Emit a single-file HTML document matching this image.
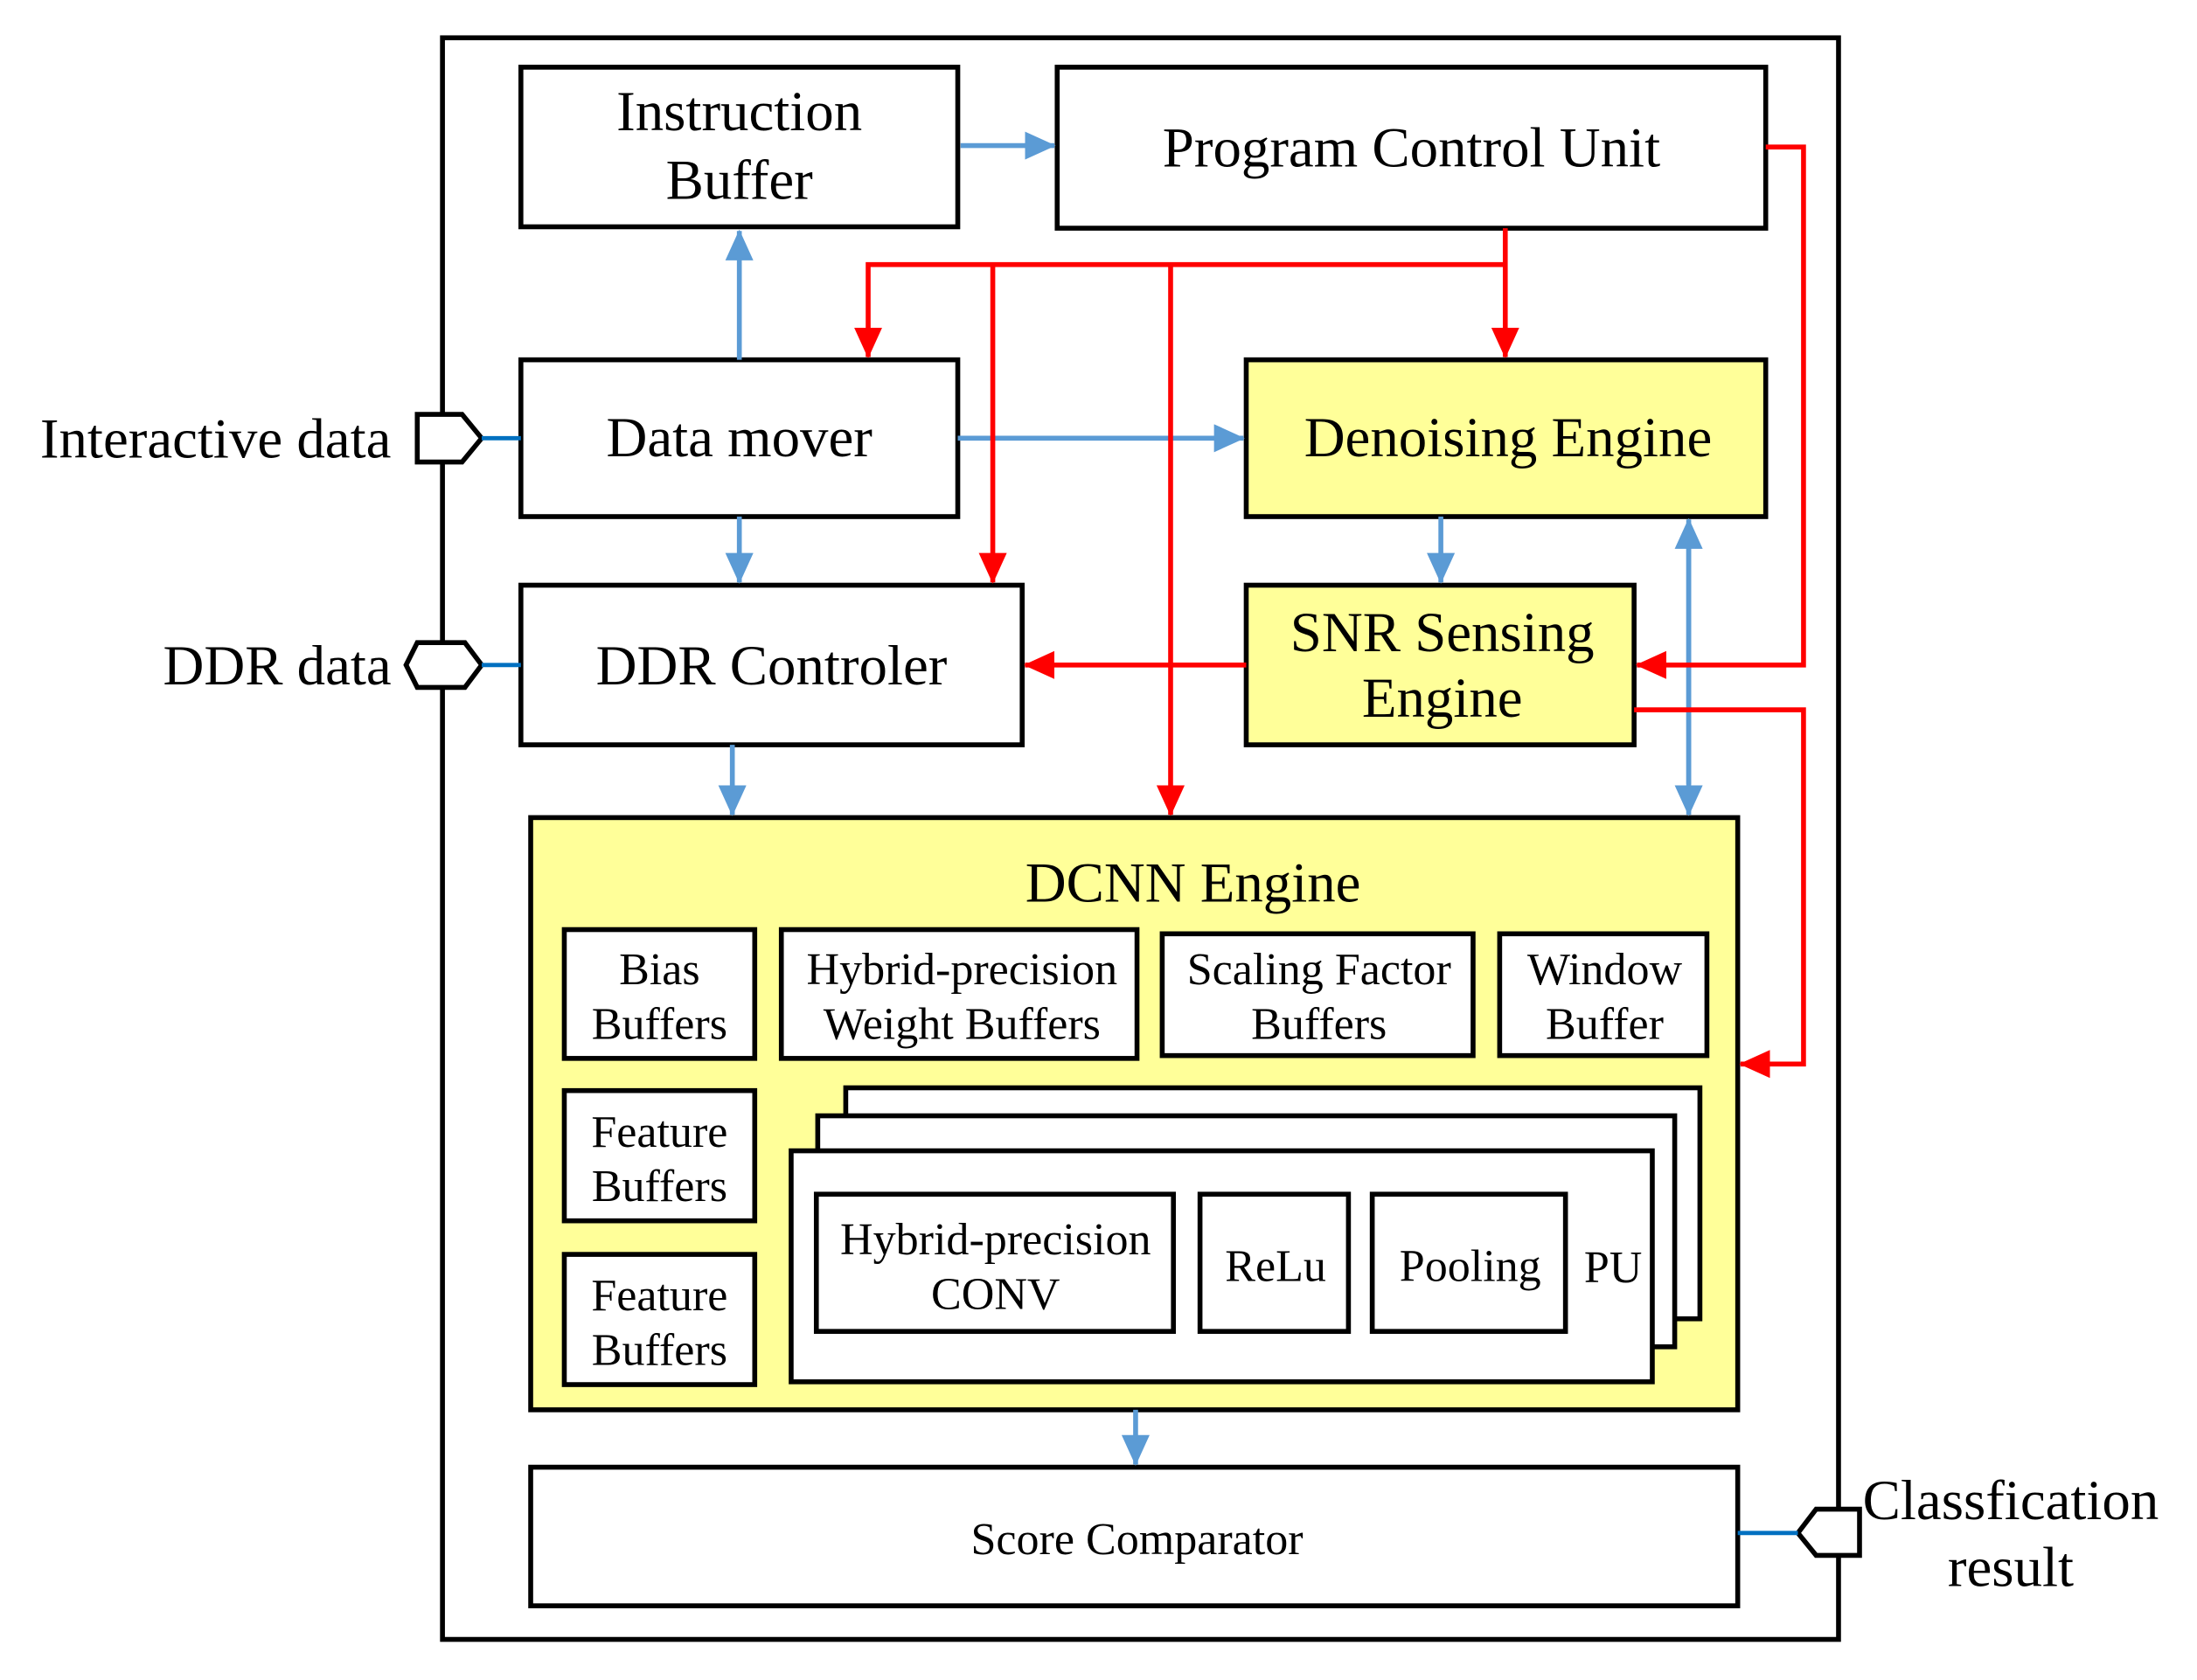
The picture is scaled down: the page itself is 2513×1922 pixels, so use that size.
<!DOCTYPE html>
<html><head><style>html,body{margin:0;padding:0;background:#fff}svg{display:block}</style></head>
<body>
<svg width="2513" height="1922" viewBox="0 0 1569 1200" preserveAspectRatio="none" xmlns="http://www.w3.org/2000/svg" font-family="Liberation Serif, serif">
<defs>
<marker id="bA" markerWidth="22" markerHeight="20" refX="21" refY="10" orient="auto" markerUnits="userSpaceOnUse" viewBox="0 0 22 20"><path d="M0,0 L22,10 L0,20 z" fill="#5b9bd5"/></marker>
<marker id="rA" markerWidth="22" markerHeight="20" refX="21" refY="10" orient="auto" markerUnits="userSpaceOnUse" viewBox="0 0 22 20"><path d="M0,0 L22,10 L0,20 z" fill="#ff0000"/></marker>
</defs>
<style>
.b{fill:#fff;stroke:#000;stroke-width:3.5}
.y{fill:#ffff99;stroke:#000;stroke-width:3.5}
.bl{stroke:#5b9bd5;stroke-width:3.5;fill:none}
.rd{stroke:#ff0000;stroke-width:3.5;fill:none}
text{text-anchor:middle;fill:#000}
.L{font-size:40.5px}.M{font-size:32.5px}
</style>
<rect x="316" y="27" width="997" height="1144" fill="#fff" stroke="#000" stroke-width="3.5"/>
<rect class="b" x="372" y="48" width="312" height="114"/>
<text class="L" x="528" y="93">Instruction</text><text class="L" x="528" y="142">Buffer</text>
<rect class="b" x="755" y="48" width="506" height="115"/>
<text class="L" x="1008" y="119">Program Control Unit</text>
<rect class="b" x="372" y="257" width="312" height="112"/>
<text class="L" x="528" y="326">Data mover</text>
<rect class="y" x="890" y="257" width="371" height="112"/>
<text class="L" x="1077" y="326">Denoising Engine</text>
<rect class="b" x="372" y="418" width="358" height="114"/>
<text class="L" x="551" y="489">DDR Controler</text>
<rect class="y" x="890" y="418" width="277" height="114"/>
<text class="L" x="1030" y="465">SNR  Sensing</text><text class="L" x="1030" y="512">Engine</text>
<rect class="y" x="379" y="584" width="862" height="423"/>
<text class="L" x="852" y="644">DCNN Engine</text>
<rect class="b" x="403" y="664" width="136" height="92"/>
<text class="M" x="471" y="703">Bias</text><text class="M" x="471" y="742">Buffers</text>
<rect class="b" x="558" y="664" width="254" height="92"/>
<text class="M" x="687" y="703">Hybrid-precision</text><text class="M" x="687" y="742">Weight Buffers</text>
<rect class="b" x="830" y="667" width="222" height="87"/>
<text class="M" x="942" y="703">Scaling Factor</text><text class="M" x="942" y="742">Buffers</text>
<rect class="b" x="1071" y="667" width="148" height="87"/>
<text class="M" x="1146" y="703">Window</text><text class="M" x="1146" y="742">Buffer</text>
<rect class="b" x="403" y="779" width="136" height="93"/>
<text class="M" x="471" y="819">Feature</text><text class="M" x="471" y="858">Buffers</text>
<rect class="b" x="403" y="896" width="136" height="93"/>
<text class="M" x="471" y="936">Feature</text><text class="M" x="471" y="975">Buffers</text>
<rect class="b" x="604" y="777" width="610" height="165"/>
<rect class="b" x="584" y="797" width="612" height="165"/>
<rect class="b" x="565" y="822" width="615" height="165"/>
<rect class="b" x="583" y="853" width="255" height="98"/>
<text class="M" x="711" y="896">Hybrid-precision</text><text class="M" x="711" y="935">CONV</text>
<rect class="b" x="857" y="853" width="106" height="98"/>
<text class="M" x="911" y="915">ReLu</text>
<rect class="b" x="980" y="853" width="138" height="98"/>
<text class="M" x="1050" y="915">Pooling</text>
<text class="M" x="1152" y="916">PU</text>
<rect class="b" x="379" y="1048" width="862" height="99"/>
<text class="M" x="812" y="1110">Score Comparator</text>
<path d="M298,296 L330,296 L344,313 L330,330 L298,330 z" fill="#fff" stroke="#000" stroke-width="3.5"/>
<line x1="344" y1="313" x2="372" y2="313" stroke="#0070c0" stroke-width="3"/>
<text class="L" x="154" y="327">Interactive data</text>
<path d="M298,459 L332,459 L344,475 L332,491 L298,491 L290,475 z" fill="#fff" stroke="#000" stroke-width="3.5"/>
<line x1="344" y1="475" x2="372" y2="475" stroke="#0070c0" stroke-width="3"/>
<text class="L" x="198" y="489">DDR data</text>
<path d="M1328,1078 L1297,1078 L1284,1095 L1297,1111 L1328,1111 z" fill="#fff" stroke="#000" stroke-width="3.5"/>
<line x1="1241" y1="1095" x2="1284" y2="1095" stroke="#0070c0" stroke-width="3"/>
<text class="L" x="1436" y="1085">Classfication</text><text class="L" x="1436" y="1133">result</text>
<line class="bl" x1="686" y1="104" x2="753" y2="104" marker-end="url(#bA)"/>
<line class="bl" x1="528" y1="257" x2="528" y2="165" marker-end="url(#bA)"/>
<line class="bl" x1="684" y1="313" x2="888" y2="313" marker-end="url(#bA)"/>
<line class="bl" x1="528" y1="369" x2="528" y2="416" marker-end="url(#bA)"/>
<line class="bl" x1="1029" y1="369" x2="1029" y2="416" marker-end="url(#bA)"/>
<line class="bl" x1="523" y1="532" x2="523" y2="582" marker-end="url(#bA)"/>
<line class="bl" x1="1206" y1="390" x2="1206" y2="582" marker-end="url(#bA)"/>
<line class="bl" x1="1206" y1="560" x2="1206" y2="371" marker-end="url(#bA)"/>
<line class="bl" x1="811" y1="1007" x2="811" y2="1046" marker-end="url(#bA)"/>
<polyline class="rd" points="1075,163 1075,255" marker-end="url(#rA)"/>
<polyline class="rd" points="1075,189 620,189 620,255" marker-end="url(#rA)"/>
<polyline class="rd" points="709,189 709,416" marker-end="url(#rA)"/>
<polyline class="rd" points="836,189 836,582" marker-end="url(#rA)"/>
<polyline class="rd" points="890,475 732,475" marker-end="url(#rA)"/>
<polyline class="rd" points="1261,105 1288,105 1288,475 1169,475" marker-end="url(#rA)"/>
<polyline class="rd" points="1167,507 1288,507 1288,760 1243,760" marker-end="url(#rA)"/>
</svg>
</body></html>
